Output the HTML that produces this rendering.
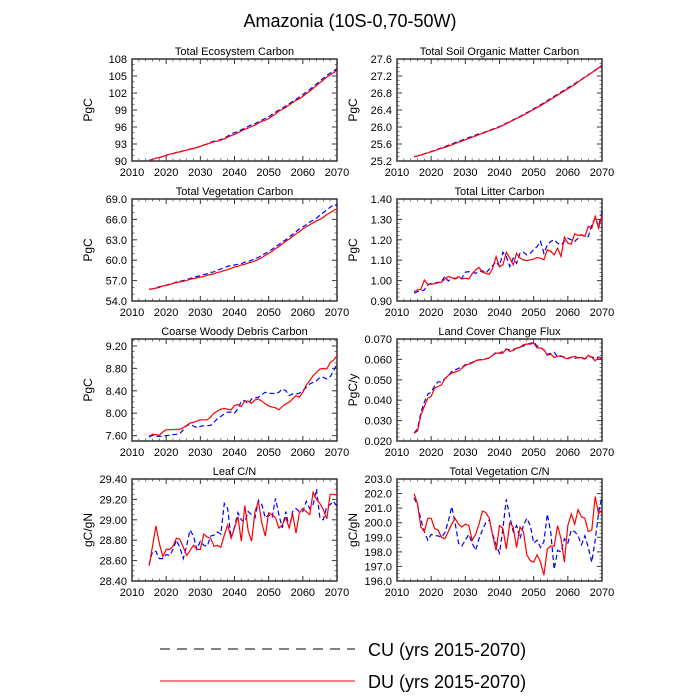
<!DOCTYPE html>
<html><head><meta charset="utf-8"><style>
html,body{margin:0;padding:0;background:#fff;}
svg{display:block;font-family:"Liberation Sans",sans-serif;}
</style></head><body>
<svg id="chart" width="700" height="700" viewBox="0 0 700 700" xmlns="http://www.w3.org/2000/svg">
<text x="350" y="27" font-size="18" text-anchor="middle">Amazonia (10S-0,70-50W)</text>
<g>
<line x1="160" y1="649" x2="355" y2="649" stroke="#000" stroke-width="1" stroke-dasharray="10,7"/>
<text x="368" y="656" font-size="18">CU (yrs 2015-2070)</text>
<line x1="160" y1="681" x2="355" y2="681" stroke="#f00" stroke-width="1"/>
<text x="368" y="688" font-size="18">DU (yrs 2015-2070)</text>
</g>
</svg>
<script>
const years = [];
for (let y = 2015; y <= 2070; y++) years.push(y);
const xTicks = [2010,2020,2030,2040,2050,2060,2070];

const tecDU = [90.1,90.3,90.5,90.6,90.8,91.0,91.2,91.3,91.5,91.6,91.8,91.9,92.1,92.2,92.4,92.6,92.8,93.0,93.2,93.4,93.5,93.7,93.9,94.2,94.5,94.7,95.0,95.3,95.6,95.8,96.1,96.3,96.7,97.0,97.2,97.5,97.9,98.3,98.8,99.1,99.5,99.9,100.3,100.7,101.0,101.4,101.9,102.3,102.8,103.3,103.8,104.3,104.8,105.2,105.6,106.0];
const tecCU = [90.1,90.3,90.5,90.6,90.8,91.0,91.2,91.3,91.5,91.6,91.8,91.9,92.1,92.2,92.4,92.6,92.8,93.0,93.3,93.5,93.6,93.8,94.0,94.4,94.8,95.0,95.2,95.5,95.8,96.1,96.4,96.6,96.9,97.2,97.5,97.8,98.2,98.6,99.0,99.3,99.7,100.1,100.5,100.9,101.3,101.7,102.2,102.6,103.1,103.6,104.1,104.6,105.1,105.5,105.9,106.3];
const tsomDU = [25.30,25.32,25.34,25.37,25.39,25.42,25.44,25.47,25.50,25.52,25.55,25.58,25.61,25.64,25.67,25.70,25.73,25.76,25.79,25.82,25.85,25.88,25.91,25.94,25.97,26.00,26.04,26.08,26.12,26.16,26.20,26.24,26.28,26.32,26.37,26.41,26.46,26.50,26.55,26.60,26.65,26.70,26.75,26.80,26.85,26.90,26.95,27.00,27.06,27.11,27.17,27.22,27.28,27.33,27.39,27.45];
const tsomCU = [25.30,25.32,25.34,25.37,25.40,25.42,25.45,25.48,25.51,25.54,25.57,25.60,25.63,25.66,25.69,25.72,25.75,25.78,25.81,25.84,25.86,25.89,25.92,25.95,25.98,26.01,26.05,26.09,26.13,26.17,26.21,26.25,26.29,26.34,26.38,26.43,26.47,26.52,26.57,26.62,26.67,26.72,26.77,26.82,26.87,26.92,26.97,27.02,27.07,27.12,27.18,27.23,27.28,27.34,27.39,27.46];
const tvcDU = [55.7,55.8,55.9,56.0,56.2,56.3,56.4,56.6,56.7,56.8,56.9,57.0,57.2,57.3,57.4,57.5,57.6,57.8,57.9,58.0,58.2,58.3,58.5,58.6,58.8,59.0,59.1,59.3,59.4,59.6,59.7,59.9,60.1,60.4,60.7,61.0,61.3,61.7,62.0,62.4,62.8,63.1,63.5,63.9,64.2,64.6,64.9,65.2,65.5,65.8,66.0,66.3,66.7,67.0,67.3,67.6];
const tvcCU = [55.7,55.8,55.9,56.1,56.2,56.3,56.5,56.6,56.8,56.9,57.0,57.2,57.3,57.5,57.6,57.7,57.9,58.0,58.2,58.3,58.5,58.7,58.9,59.1,59.2,59.3,59.4,59.5,59.7,59.8,60.0,60.2,60.4,60.7,61.0,61.3,61.6,62.0,62.3,62.7,63.0,63.4,63.8,64.2,64.6,64.9,65.2,65.6,65.9,66.2,66.6,67.0,67.4,67.8,68.1,68.2];
const litDU = [0.946,0.954,0.957,1.003,0.982,0.982,0.985,0.989,0.992,1.008,1.020,1.015,1.008,1.020,1.008,1.012,1.008,1.034,1.052,1.064,1.041,1.036,1.031,1.061,1.118,1.069,1.077,1.138,1.110,1.077,1.134,1.110,1.102,1.098,1.102,1.105,1.113,1.110,1.102,1.151,1.143,1.126,1.159,1.118,1.213,1.184,1.179,1.230,1.221,1.225,1.216,1.266,1.257,1.315,1.257,1.320];
const litCU = [0.938,0.946,0.949,0.954,0.979,0.987,0.987,0.992,0.995,1.020,0.998,1.012,1.012,1.008,1.012,1.041,1.044,1.041,1.036,1.044,1.048,1.036,1.057,1.074,1.093,1.069,1.139,1.118,1.069,1.110,1.085,1.134,1.139,1.126,1.134,1.151,1.167,1.192,1.134,1.175,1.192,1.200,1.184,1.175,1.192,1.208,1.200,1.192,1.208,1.225,1.216,1.216,1.274,1.307,1.266,1.339];
const cwdDU = [7.588,7.624,7.618,7.606,7.665,7.706,7.706,7.706,7.712,7.712,7.742,7.783,7.824,7.836,7.860,7.883,7.883,7.883,7.931,8.001,8.037,8.072,8.084,8.072,8.061,8.137,8.155,8.120,8.214,8.214,8.179,8.238,8.255,8.214,8.167,8.131,8.108,8.096,8.061,8.120,8.167,8.196,8.255,8.314,8.285,8.373,8.503,8.580,8.669,8.728,8.787,8.799,8.787,8.905,8.946,9.023];
const cwdCU = [7.576,7.606,7.588,7.588,7.588,7.600,7.606,7.618,7.624,7.635,7.706,7.783,7.801,7.771,7.742,7.765,7.777,7.777,7.783,7.842,7.901,7.942,7.990,8.019,8.019,8.001,8.078,8.214,8.226,8.167,8.255,8.273,8.285,8.332,8.373,8.356,8.356,8.344,8.373,8.432,8.403,8.314,8.344,8.344,8.356,8.403,8.462,8.521,8.551,8.580,8.639,8.639,8.610,8.651,8.757,8.876];
const lccDU = [0.0238,0.0249,0.0328,0.0369,0.0410,0.0418,0.0459,0.0467,0.0475,0.0505,0.0521,0.0533,0.0538,0.0544,0.0557,0.0571,0.0577,0.0582,0.0593,0.0597,0.0598,0.0603,0.0607,0.0620,0.0631,0.0631,0.0631,0.0652,0.0639,0.0643,0.0656,0.0659,0.0672,0.0675,0.0675,0.0680,0.0656,0.0656,0.0648,0.0620,0.0626,0.0610,0.0615,0.0618,0.0607,0.0603,0.0610,0.0615,0.0607,0.0610,0.0603,0.0620,0.0610,0.0593,0.0610,0.0607];
const lccCU = [0.0238,0.0260,0.0340,0.0390,0.0430,0.0440,0.0470,0.0490,0.0490,0.0505,0.0520,0.0540,0.0548,0.0557,0.0560,0.0575,0.0580,0.0585,0.0595,0.0598,0.0600,0.0602,0.0608,0.0620,0.0636,0.0630,0.0640,0.0650,0.0646,0.0648,0.0655,0.0662,0.0665,0.0675,0.0678,0.0685,0.0665,0.0660,0.0645,0.0625,0.0630,0.0635,0.0612,0.0615,0.0612,0.0605,0.0612,0.0605,0.0610,0.0605,0.0602,0.0614,0.0612,0.0605,0.0612,0.0600];
const leafDU = [28.55,28.74,28.94,28.77,28.64,28.71,28.71,28.74,28.82,28.81,28.73,28.65,28.70,28.75,28.71,28.71,28.86,28.83,28.82,28.74,28.75,28.73,28.85,28.95,28.82,28.92,29.03,28.79,29.14,28.89,28.79,29.08,29.18,28.97,28.84,29.07,29.05,29.02,28.92,28.95,29.02,28.92,29.06,28.87,29.07,29.11,29.08,29.05,29.27,29.20,29.16,29.10,29.01,29.25,29.25,29.24];
const leafCU = [28.56,28.69,28.69,28.62,28.62,28.66,28.65,28.71,28.80,28.73,28.62,28.75,28.90,28.84,28.71,28.79,28.75,28.74,28.84,28.85,28.88,28.86,29.16,29.11,28.82,28.93,29.07,29.00,28.98,29.08,29.05,29.02,29.19,29.15,29.02,29.05,29.02,29.21,29.05,28.92,29.08,28.92,29.08,29.11,29.08,29.08,29.18,29.11,29.15,29.30,29.02,29.00,29.13,29.15,29.18,29.13];
const vcnDU = [202.0,201.3,199.7,199.4,200.3,200.3,199.6,199.5,199.0,198.9,199.4,199.9,200.3,199.9,199.7,199.9,199.8,198.8,199.2,199.9,200.8,200.7,200.3,199.1,198.1,199.8,199.6,198.2,200.0,199.7,198.3,199.7,199.4,197.8,197.4,197.3,197.8,197.3,196.4,198.2,198.4,198.4,199.8,198.9,197.3,199.8,200.6,199.9,200.9,200.4,200.3,199.4,199.5,201.8,200.6,200.9];
const vcnCU = [201.7,201.2,200.2,199.4,198.8,199.2,199.1,199.1,199.0,199.3,200.1,201.1,200.0,198.6,198.4,198.8,199.2,198.6,198.1,198.9,199.5,200.0,200.2,199.2,198.5,197.9,199.6,201.6,200.4,199.4,199.8,198.9,199.8,200.3,199.8,198.6,198.8,198.3,198.7,200.6,199.3,196.8,198.1,198.0,198.9,198.6,199.5,199.4,199.1,198.5,199.1,198.3,197.3,198.8,200.7,201.8];

const tecTicks = [90,93,96,99,102,105,108];
const tsomTicks = [25.2,25.6,26.0,26.4,26.8,27.2,27.6];
const tvcTicks = [54,57,60,63,66,69];
const litTicks = [0.9,1.0,1.1,1.2,1.3,1.4];
const cwdTicks = [7.6,8.0,8.4,8.8,9.2];
const lccTicks = [0.02,0.03,0.04,0.05,0.06,0.07];
const leafTicks = [28.4,28.6,28.8,29.0,29.2,29.4];
const vcnTicks = [196,197,198,199,200,201,202,203];

const NS = 'http://www.w3.org/2000/svg';
const svg = document.getElementById('chart');
function mk(tag, attrs, parent) {
  const e = document.createElementNS(NS, tag);
  for (const k in attrs) e.setAttribute(k, attrs[k]);
  parent.appendChild(e);
  return e;
}

const panels = [
  {id:'total-ecosystem-carbon', title:'Total Ecosystem Carbon', unit:'PgC', col:0,row:0, ymin:90,ymax:108, ticks:tecTicks, dec:0, minorN:3, du:tecDU, cu:tecCU},
  {id:'total-soil-organic-matter-carbon', title:'Total Soil Organic Matter Carbon', unit:'PgC', col:1,row:0, ymin:25.2,ymax:27.6, ticks:tsomTicks, dec:1, minorN:4, du:tsomDU, cu:tsomCU},
  {id:'total-vegetation-carbon', title:'Total Vegetation Carbon', unit:'PgC', col:0,row:1, ymin:54,ymax:69, ticks:tvcTicks, dec:1, minorN:3, du:tvcDU, cu:tvcCU},
  {id:'total-litter-carbon', title:'Total Litter Carbon', unit:'PgC', col:1,row:1, ymin:0.9,ymax:1.4, ticks:litTicks, dec:2, minorN:5, du:litDU, cu:litCU},
  {id:'coarse-woody-debris-carbon', title:'Coarse Woody Debris Carbon', unit:'PgC', col:0,row:2, ymin:7.504,ymax:9.324, ticks:cwdTicks, dec:2, minorN:4, du:cwdDU, cu:cwdCU},
  {id:'land-cover-change-flux', title:'Land Cover Change Flux', unit:'PgC/y', col:1,row:2, ymin:0.02,ymax:0.07, ticks:lccTicks, dec:3, minorN:5, du:lccDU, cu:lccCU},
  {id:'leaf-cn', title:'Leaf C/N', unit:'gC/gN', col:0,row:3, ymin:28.4,ymax:29.4, ticks:leafTicks, dec:2, minorN:4, du:leafDU, cu:leafCU},
  {id:'total-vegetation-cn', title:'Total Vegetation C/N', unit:'gC/gN', col:1,row:3, ymin:196,ymax:203, ticks:vcnTicks, dec:1, minorN:4, du:vcnDU, cu:vcnCU}
];

const W = 205, H = 102;
panels.forEach(p => {
  const x0 = p.col === 0 ? 132 : 397;
  const y0 = 59 + p.row * 140;
  const g = mk('g', {}, svg);
  
  
  const xs = v => x0 + (v - 2010) / 60 * W;
  const ys = v => y0 + H - (v - p.ymin) / (p.ymax - p.ymin) * H;

  const t = mk('text', {x: x0 + W/2, y: y0 - 4, 'font-size': 11, 'text-anchor': 'middle'}, g);
  t.textContent = p.title;
  
  

  const yl = mk('text', {x: x0 - 40, y: y0 + H/2, 'font-size': 12, 'text-anchor': 'middle', transform: `rotate(-90 ${x0-40} ${y0+H/2})`}, g);
  yl.textContent = p.unit;
  
  

  // x ticks
  xTicks.forEach(v => {
    const x = xs(v);
    mk('line', {x1:x, y1:y0+H, x2:x, y2:y0+H-5, stroke:'#333', 'stroke-width':1}, g);
    mk('line', {x1:x, y1:y0, x2:x, y2:y0+5, stroke:'#333', 'stroke-width':1}, g);
    const lb = mk('text', {x:x, y:y0+H+15, 'font-size':11, 'text-anchor':'middle'}, g);
    lb.textContent = v;
    
    
  });
  for (let v = 2012; v < 2070; v += 2) {
    if (v % 10 === 0) continue;
    const x = xs(v);
    mk('line', {x1:x, y1:y0+H, x2:x, y2:y0+H-2.5, stroke:'#555', 'stroke-width':0.8}, g);
    mk('line', {x1:x, y1:y0, x2:x, y2:y0+2.5, stroke:'#555', 'stroke-width':0.8}, g);
  }
  // y ticks
  const step = p.ticks[1] - p.ticks[0];
  p.ticks.forEach((v, i) => {
    const y = ys(v);
    mk('line', {x1:x0, y1:y, x2:x0+5, y2:y, stroke:'#333', 'stroke-width':1}, g);
    mk('line', {x1:x0+W, y1:y, x2:x0+W-5, y2:y, stroke:'#333', 'stroke-width':1}, g);
    const lb = mk('text', {x:x0-5, y:y+4, 'font-size':11, 'text-anchor':'end'}, g);
    lb.textContent = v.toFixed(p.dec);
    
    
  });
  const ms = step / p.minorN;
  for (let v = p.ticks[0] - step; v <= p.ymax + 1e-9; v += ms) {
    if (v < p.ymin - 1e-9) continue;
    const y = ys(v);
    mk('line', {x1:x0, y1:y, x2:x0+2.5, y2:y, stroke:'#555', 'stroke-width':0.8}, g);
    mk('line', {x1:x0+W, y1:y, x2:x0+W-2.5, y2:y, stroke:'#555', 'stroke-width':0.8}, g);
  }
  mk('rect', {x:x0, y:y0, width:W, height:H, fill:'none', stroke:'#333', 'stroke-width':1.5}, g);

  const pts = arr => arr.map((v, i) => xs(years[i]).toFixed(1) + ',' + ys(v).toFixed(1)).join(' ');
  const cu = mk('polyline', {points: pts(p.cu), fill:'none', stroke:'#00f', 'stroke-width':1.2, 'stroke-dasharray':'5,3'}, g);
  
  
  const du = mk('polyline', {points: pts(p.du), fill:'none', stroke:'#f00', 'stroke-width':1.2}, g);
  
  
});
</script>
</body></html>
